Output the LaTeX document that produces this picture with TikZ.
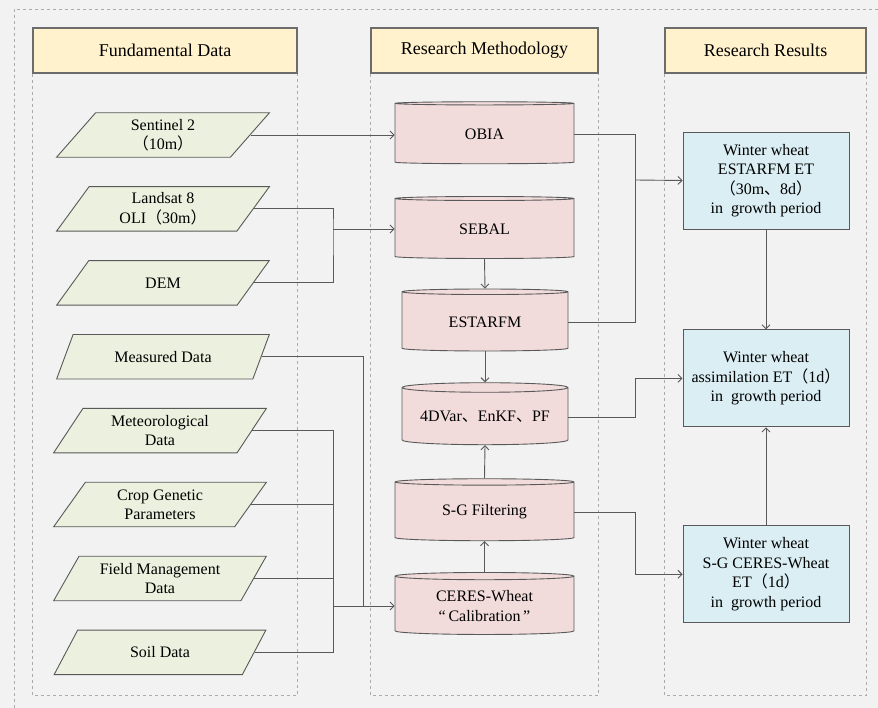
\documentclass[tikz,border=0pt]{standalone}
\usepackage{fontspec}
\setmainfont{Liberation Serif}
\newfontfamily\cjk{Noto Sans CJK SC}
\usepackage{tikz}
\usetikzlibrary{arrows.meta,positioning,shapes.geometric}

\definecolor{bgcol}{HTML}{F2F2F2}
\definecolor{headfill}{HTML}{FFF2CC}
\definecolor{datafill}{HTML}{EBF1DE}
\definecolor{cylfill}{HTML}{F2DCDB}
\definecolor{resfill}{HTML}{DAEEF3}
\definecolor{edgecol}{HTML}{595959}
\definecolor{dashcol}{HTML}{ABABAB}

\newcommand{\lp}{{\cjk （}}
\newcommand{\rp}{{\cjk ）}}
\newcommand{\dun}{{\cjk 、}}

\begin{document}
\begin{tikzpicture}[x=1pt,y=-1pt,
  headbox/.style={draw=gray!85!black,line width=1.4pt,fill=headfill,
               minimum height=45pt,font=\fontsize{18}{21}\selectfont},
  colbody/.style={draw=dashcol,dashed,line width=0.8pt},
  datain/.style={trapezium,trapezium left angle=62,trapezium right angle=118,
               trapezium stretches,draw=edgecol,line width=0.9pt,fill=datafill,
               minimum width=213pt,minimum height=44.5pt,align=center,
               font=\fontsize{16}{19.5}\selectfont},
  method/.style={cylinder,shape border rotate=90,aspect=0.07,draw=edgecol,
               line width=0.9pt,fill=cylfill,minimum width=179pt,
               minimum height=62pt,align=center,font=\fontsize{16}{19.5}\selectfont},
  resbox/.style={draw=edgecol,line width=0.9pt,fill=resfill,minimum width=166pt,
               minimum height=97pt,align=center,font=\fontsize{16}{19.5}\selectfont},
  conn/.style={draw=edgecol,line width=0.9pt},
  arr/.style={conn,-{Straight Barb[length=4pt,width=8pt]}},
]
  \useasboundingbox[fill=bgcol] (0,0) rectangle (878,708);
  \draw[colbody] (878,9) -- (14,9) -- (14,708);

  % column headers and frames
  \node[headbox,minimum width=264pt] (hfund) at (165,50.5) {Fundamental Data};
  \node[headbox,minimum width=227pt] (hmeth) at (484.5,50.5) {Research Methodology};
  \node[headbox,minimum width=201pt] (hres)  at (765.5,50.5) {Research Results};
  \draw[colbody] (hfund.south west) -- (hfund.south west |- 0,695) -- (hfund.south east |- 0,695) -- (hfund.south east);
  \draw[colbody] (hmeth.south west) -- (hmeth.south west |- 0,695) -- (hmeth.south east |- 0,695) -- (hmeth.south east);
  \draw[colbody] (hres.south west) -- (hres.south west |- 0,695) -- (hres.south east |- 0,695) -- (hres.south east);

  % fundamental data
  \node[datain] (sent) at (163,135) {Sentinel 2\\\lp10m\rp};
  \node[datain,below=28.5pt of sent] (land) {Landsat 8\\OLI\lp30m\rp};
  \node[datain,below=28.5pt of land] (dem)  {DEM};
  \node[datain,below=28.5pt of dem]  (meas) {Measured Data};
  \node[datain,below=28.5pt of meas,xshift=-3pt] (meteo) {Meteorological\\Data};
  \node[datain,below=28.5pt of meteo] (crop)  {Crop Genetic\\Parameters};
  \node[datain,below=28.5pt of crop]  (field) {Field Management\\Data};
  \node[datain,below=28.5pt of field] (soil)  {Soil Data};

  % methods
  \node[method] (obia)  at (484.5,134) {OBIA};
  \node[method] (sebal) at (484.5,229) {SEBAL};
  \node[method,minimum width=166pt] (estar) at (485,322) {ESTARFM};
  \node[method,minimum width=166pt] (assim) at (485,417) {4DVar\dun EnKF\dun PF};
  \node[method] (sgf)   at (484.5,512) {S-G Filtering};
  \node[method] (ceres) at (484.5,606) {CERES-Wheat\\“\,Calibration\,”};

  % results
  \node[resbox] (res1) at (766,180.5) {Winter wheat\\ESTARFM ET\\\lp30m\dun 8d\rp\\in\ \ growth period};
  \node[resbox,below=100pt of res1] (res2) {Winter wheat\\assimilation ET\lp1d\rp\\in\ \ growth period};
  \node[resbox,below=98pt of res2] (res3) {Winter wheat\\S-G CERES-Wheat\\ET\lp1d\rp\\in\ \ growth period};

  % junctions
  \coordinate (jland) at (333,229);
  \coordinate (jcrop) at (333,606);
  \coordinate (jmeas) at (363,606);
  \coordinate (jest)  at (635,180);

  % data -> methods
  \draw[arr] (sent.east) -- (sent.east -| obia.west);
  \draw[conn] (land.east) -| (jland) |- (dem.east);
  \draw[arr] (jland) -- (jland -| sebal.west);
  \draw[conn] (meas.east) -| (jmeas);
  \draw[conn] (meteo.east) -| (soil.east -| jcrop) -- (soil.east);
  \draw[conn] (crop.east) -- (crop.east -| jcrop);
  \draw[conn] (field.east) -- (field.east -| jcrop);
  \draw[conn] (jcrop) -- (jmeas);
  \draw[arr] (jmeas) -- (jmeas -| ceres.west);

  % methods chain
  \draw[arr] (sebal.south) -- (estar.north);
  \draw[arr] (estar.south) -- (assim.north);
  \draw[arr] (sgf.north) -- (assim.south);
  \draw[arr] (ceres.north) -- (sgf.south);

  % methods -> results
  \draw[conn] (obia.east) -| (estar.east -| jest) -- (estar.east);
  \draw[arr] (jest) -- (res1.west);
  \draw[arr] (assim.east) -- ++(67,0) |- (res2.west);
  \draw[arr] (sgf.east) -- ++(61,0) |- (res3.west);
  \draw[arr] (res1.south) -- (res2.north);
  \draw[arr] (res3.north) -- (res2.south);
\end{tikzpicture}
\end{document}
